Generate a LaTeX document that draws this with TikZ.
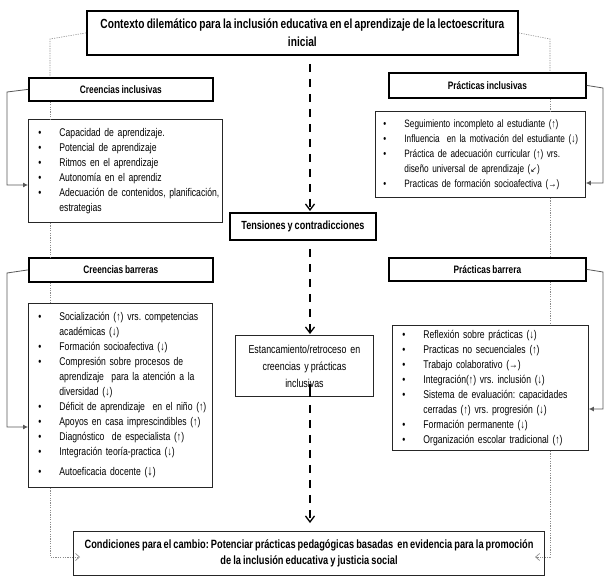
\documentclass[tikz,border=0pt]{standalone}
\usepackage{fontspec}
\setmainfont[FakeStretch=0.77,WordSpace=0.8]{Liberation Sans}
\newfontfamily\arrf{DejaVu Sans}
\usetikzlibrary{arrows.meta}
\frenchspacing
\newcommand\bul{\makebox[21pt][l]{\textbullet}}
\newcommand\cnt{\hspace*{21pt}}
\newcommand\li[1]{\leavevmode\rlap{#1}}
\begin{document}
\begin{tikzpicture}[x=1pt,y=-1pt,
  thickbox/.style={draw=black, line width=1.8pt, inner sep=0pt, anchor=north west, align=center},
  thinbox/.style={draw=black!85, line width=0.9pt, inner ysep=0pt, anchor=north west, align=left},
  hdr/.style={thickbox, font=\bfseries\fontsize{10.8}{13}\selectfont},
  lst/.style={thinbox, font=\fontsize{11.2}{15}\selectfont},
  dotc/.style={draw=black!45, line width=0.6pt, dash pattern=on 1.2pt off 1.2pt},
  sidec/.style={draw=black!65, line width=0.8pt},
  cdash/.style={line width=2pt, dash pattern=on 8pt off 7pt},
  vtip/.style={-{Straight Barb[length=6pt,width=9pt,line width=1.3pt]}},
  otip/.style={-{Straight Barb[length=4pt,width=7pt,line width=0.7pt]}},
  ftip/.style={-{Latex[length=5pt,width=5pt]}}
]
\useasboundingbox (0,0) rectangle (611,584);

% boxes
\node[thickbox, minimum width=431, minimum height=44,
      font=\bfseries\fontsize{13.2}{18}\selectfont] (title) at (86,10)
  {Contexto dilemático para la inclusión educativa en el aprendizaje de la lectoescritura\\inicial};

\node[hdr, minimum width=184, minimum height=23] (ci) at (28,77) {Creencias inclusivas};
\node[lst, minimum height=103, text width=174, inner xsep=10pt] (l1) at (28,119)
  {\li{\bul Capacidad de aprendizaje.}\\
   \li{\bul Potencial de aprendizaje}\\
   \li{\bul Ritmos en el aprendizaje}\\
   \li{\bul Autonomía en el aprendiz}\\
   \li{\bul Adecuación de contenidos, planificación,}\\
   \li{\cnt estrategias}};

\node[hdr, minimum width=197, minimum height=25] (pi) at (388,72) {Prácticas inclusivas};
\node[lst, font=\fontsize{10.7}{15}\selectfont, minimum height=86, text width=194, inner xsep=8pt] (l2) at (375,111)
  {\li{\bul Seguimiento incompleto al estudiante (↑)}\\
   \li{\bul Influencia \ en la motivación del estudiante (↓)}\\
   \li{\bul Práctica de adecuación curricular (↑) vrs.}\\
   \li{\cnt diseño universal de aprendizaje ({\arrf\fontsize{8}{8}\selectfont ↙})}\\
   \li{\bul Practicas de formación socioafectiva (→)}};

\node[thickbox, minimum width=146, minimum height=27,
      font=\bfseries\fontsize{11.8}{14}\selectfont] (tens) at (229,212) {Tensiones y contradicciones};

\node[hdr, minimum width=184, minimum height=24] (cb) at (28,257) {Creencias barreras};
\node[lst, minimum height=184, text width=164, inner xsep=10pt] (l3) at (28,303)
  {\li{\bul Socialización (↑) vrs. competencias}\\
   \li{\cnt académicas (↓)}\\
   \li{\bul Formación socioafectiva (↓)}\\
   \li{\bul Compresión sobre procesos de}\\
   \li{\cnt aprendizaje \ para la atención a la}\\
   \li{\cnt diversidad (↓)}\\
   \li{\bul Déficit de aprendizaje \ en el niño (↑)}\\
   \li{\bul Apoyos en casa imprescindibles (↑)}\\
   \li{\bul Diagnóstico \ de especialista (↑)}\\
   \li{\bul Integración teoría-practica (↓)}\\[5pt]
   \li{\bul Autoeficacia docente ({\fontsize{14}{14}\selectfont ↓})}};

\node[hdr, minimum width=197, minimum height=23] (pb) at (388,257) {Prácticas barrera};
\node[lst, minimum height=125, text width=176, inner xsep=10pt] (l4) at (392,325)
  {\li{\bul Reflexión sobre prácticas (↓)}\\
   \li{\bul Practicas no secuenciales (↑)}\\
   \li{\bul Trabajo colaborativo (→)}\\
   \li{\bul Integración(↑) vrs. inclusión (↓)}\\
   \li{\bul Sistema de evaluación: capacidades}\\
   \li{\cnt cerradas (↑) vrs. progresión (↓)}\\
   \li{\bul Formación permanente (↓)}\\
   \li{\bul Organización escolar tradicional (↑)}};

\node[thinbox, align=center, minimum width=138, minimum height=61, inner xsep=0pt,
      font=\fontsize{11.5}{17}\selectfont] (est) at (235,335)
  {Estancamiento/retroceso \ en\\creencias \ y prácticas\\inclusivas};

\node[thinbox, align=center, line width=1.1pt, minimum width=471, minimum height=44, inner xsep=0pt,
      font=\bfseries\fontsize{12}{16.5}\selectfont] (cond) at (73,531)
  {Condiciones para el cambio: Potenciar prácticas pedagógicas basadas \ en evidencia para la promoción\\
   de la inclusión educativa y justicia social};

% helper coordinates
\coordinate (cx) at (310,0);
\coordinate (dl) at (50,39);
\coordinate (dr) at (550,39);
\coordinate (dlb) at (50,557);
\coordinate (drb) at (550,557);
\coordinate (sl1) at (7,92);
\coordinate (sl2) at (7,185);
\coordinate (sl3) at (7,273);
\coordinate (sl4) at (7,427);
\coordinate (sr1) at (603,88);
\coordinate (sr2) at (603,183);
\coordinate (sr3) at (603,272);
\coordinate (sr4) at (603,409);

% centre dashed flow
\draw[cdash, vtip, shorten <=8pt, shorten >=1pt] (title.south -| cx) -- (tens.north -| cx);
\draw[cdash, vtip, shorten <=8pt, shorten >=1pt] (tens.south -| cx) -- (est.north -| cx);
\draw[line width=1.5pt] ([yshift=13pt]est.south -| cx) -- (est.south -| cx);
\draw[cdash, vtip, shorten <=8pt, shorten >=8pt] (est.south -| cx) -- (cond.north -| cx);

% dotted side flows
\draw[dotc] (title.west) -- (dl) -- (dl |- ci.north);
\draw[dotc] (ci.south -| dl) -- (l1.north -| dl);
\draw[dotc] (l1.south -| dl) -- (cb.north -| dl);
\draw[dotc] (cb.south -| dl) -- (l3.north -| dl);
\draw[dotc, otip, shorten >=-7pt] (l3.south -| dl) -- (dlb) -- (dlb -| cond.west);

\draw[dotc] (title.east) -- (dr) -- (dr |- pi.north);
\draw[dotc] (pi.south -| dr) -- (l2.north -| dr);
\draw[dotc] (l2.south -| dr) -- (pb.north -| dr);
\draw[dotc] (pb.south -| dr) -- (l4.north -| dr);
\draw[dotc, otip, shorten >=-10pt] (l4.south -| dr) -- (drb) -- (drb -| cond.east);

% solid side connectors
\draw[sidec, ftip] (ci.west) -- (sl1) -- (sl2) -- (sl2 -| l1.west);
\draw[sidec, ftip] (cb.west) -- (sl3) -- (sl4) -- (sl4 -| l3.west);
\draw[sidec, ftip] (pi.east) -- (sr1) -- (sr2) -- (sr2 -| l2.east);
\draw[sidec, ftip] (pb.east) -- (sr3) -- (sr4) -- (sr4 -| l4.east);
\end{tikzpicture}
\end{document}
